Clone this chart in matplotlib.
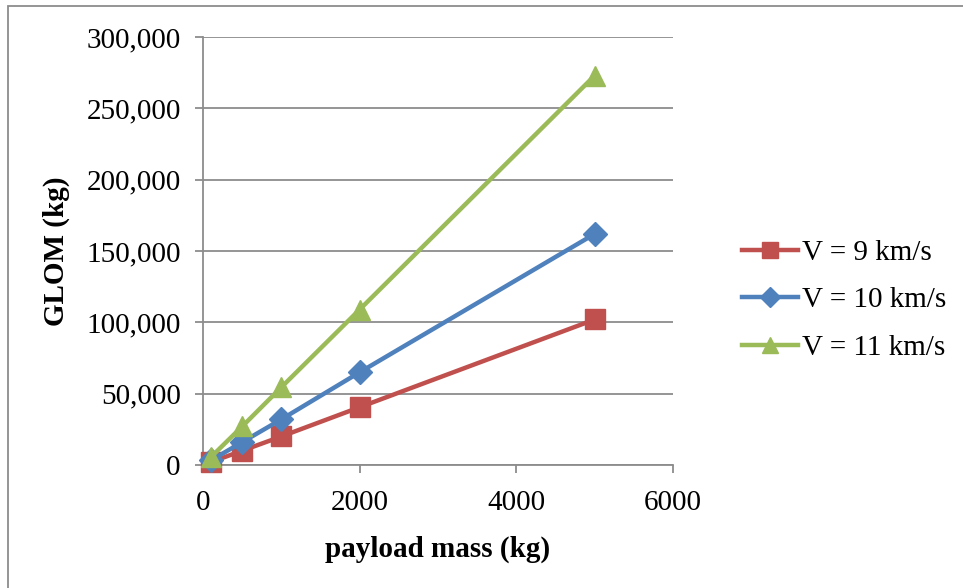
import matplotlib.pyplot as plt
from matplotlib.patches import Rectangle
from matplotlib.ticker import FuncFormatter

payload = [100, 500, 1000, 2000, 5000]
glom_9 = [2000, 10000, 20000, 40500, 102000]
glom_10 = [3200, 16000, 32000, 65000, 162000]
glom_11 = [5500, 27000, 54500, 109000, 273000]
labels = ["V = 9 km/s", "V = 10 km/s", "V = 11 km/s"]

plt.rcParams["font.family"] = ["Liberation Serif", "DejaVu Serif"]

fig = plt.figure(figsize=(9.63, 5.88), dpi=100)
ax = fig.add_axes([0.2108, 0.2092, 0.4881, 0.7278])

series = [
    (glom_9, "#c0504d", "s", 14),
    (glom_10, "#4f81bd", "D", 12),
    (glom_11, "#9bbb59", "^", 14),
]
for (values, color, marker, ms), label in zip(series, labels):
    ax.plot(payload, values, color=color, lw=3.2, marker=marker, ms=ms,
            markeredgecolor=color, label=label, clip_on=False, zorder=3)

ax.set_xlim(0, 6000)
ax.set_ylim(0, 300000)
ax.set_xticks([0, 2000, 4000, 6000])
ax.set_yticks(range(0, 300001, 50000))
ax.yaxis.set_major_formatter(FuncFormatter(lambda v, p: f"{int(v):,}"))
ax.grid(axis="y", color="#8c8c8c", lw=1.3)
ax.set_axisbelow(True)
for side in ["top", "right"]:
    ax.spines[side].set_visible(False)
for side in ["left", "bottom"]:
    ax.spines[side].set_color("#8c8c8c")
    ax.spines[side].set_linewidth(1.3)
ax.tick_params(axis="both", which="major", labelsize=21, color="#8c8c8c",
               length=6, width=1.3, direction="out")
ax.tick_params(axis="y", pad=10)
ax.tick_params(axis="x", pad=12)
ax.set_xlabel("payload mass (kg)", fontsize=21, fontweight="bold", labelpad=14)
ax.set_ylabel("GLOM (kg)", fontsize=21, fontweight="bold", labelpad=12)

ax.legend(loc="center left", bbox_to_anchor=(1.147, 0.385), frameon=False,
          fontsize=21, handlelength=1.9, handletextpad=0.15, labelspacing=0.72,
          borderaxespad=0, borderpad=0, markerscale=0.85)

# outer chart-area frame: only the left and top edges fall inside the image
fig.patches.append(Rectangle((8 / 963, -0.1), 1.2, 1.1 - 6 / 588,
                             transform=fig.transFigure,
                             fill=False, edgecolor="#8c8c8c", lw=1.3))

fig.savefig("out.png", dpi=100)
